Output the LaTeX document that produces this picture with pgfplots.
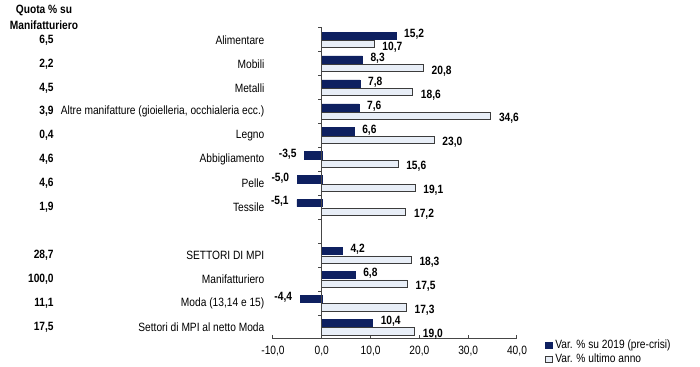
\documentclass[border=0pt]{standalone}
\usepackage{fontspec}
\setmainfont{Liberation Sans}[FakeStretch=0.85]
\usepackage{pgfplots}
\pgfplotsset{compat=1.18}
\definecolor{navy}{RGB}{14,32,96}
\definecolor{lightbar}{RGB}{232,238,247}
\definecolor{barline}{RGB}{60,60,60}
\definecolor{axisgray}{RGB}{70,70,70}
\newcommand{\fs}{\fontsize{9}{11}\selectfont}
\begin{document}
\begin{tikzpicture}[font=\fs]
\useasboundingbox (0,0) rectangle (525pt,275.25pt);
\node[font=\bfseries\fontsize{9}{12}\selectfont, align=center] at (33pt,262pt) {Quota \% su\\Manifatturiero};
\begin{axis}[
 at={(204.75pt,21pt)}, anchor=south west,
 scale only axis, width=183pt, height=233.25pt,
 xbar, bar width=0.3,
 xmin=-10, xmax=40, ymin=-0.5, ymax=12.5,
 axis x line*=bottom, axis y line*=left,
 y axis line style={draw=none},
 x axis line style={axisgray, line width=0.75pt},
 xtick={-10,0,...,40},
 xtick align=inside, major tick length=3pt,
 xtick style={axisgray, line width=0.75pt},
 xticklabel={\pgfmathprintnumber[use comma,fixed,fixed zerofill,precision=1,assume math mode=true]{\tick}},
 xticklabel style={yshift=-2pt},
 ytick={0,1,2,3,5,6,7,8,9,10,11,12},
 yticklabels={Settori di MPI al netto Moda, {Moda (13,14 e 15)}, Manifatturiero, SETTORI DI MPI, Tessile, Pelle, Abbigliamento, Legno, {Altre manifatture (gioielleria, occhialeria ecc.)}, Metalli, Mobili, Alimentare},
 ytick style={draw=none},
 tick label style={font=\fs},
 clip=false,
 point meta=x,
 nodes near coords={\pgfmathprintnumber[use comma,fixed,fixed zerofill,precision=1,assume math mode=true]{\pgfplotspointmeta}},
 nodes near coords align={horizontal},
 every node near coord/.append style={font=\bfseries\fs, inner xsep=6pt, text=black},
 legend style={at={(1.115,0.006)}, anchor=north west, draw=none, fill=none, inner sep=0pt, row sep=-1.5pt, font=\fs},
 legend cell align=left,
]
\addplot[fill=navy, draw=navy, bar shift=0.18, every node near coord/.append style={yshift=1pt},
 legend image code/.code={\draw[fill=navy, draw=navy] (0pt,-2.5pt) rectangle (5pt,2.5pt);}]
 coordinates {(15.2,12) (8.3,11) (7.8,10) (7.6,9) (6.6,8) (-3.5,7) (-5.0,6) (-5.1,5) (4.2,3) (6.8,2) (-4.4,1) (10.4,0)};
\addplot[fill=lightbar, draw=barline, line width=0.6pt, bar shift=-0.18, every node near coord/.append style={yshift=-2pt},
 legend image code/.code={\draw[fill=lightbar, draw=barline, line width=0.5pt] (0pt,-2.5pt) rectangle (5pt,2.5pt);}]
 coordinates {(10.7,12) (20.8,11) (18.6,10) (34.6,9) (23.0,8) (15.6,7) (19.1,6) (17.2,5) (18.3,3) (17.5,2) (17.3,1) (19.0,0)};
\legend{Var. \% su 2019 (pre-crisi), Var. \% ultimo anno}
\draw[axisgray, line width=0.75pt] (axis cs:0,-0.5) -- (axis cs:0,12.5);
\pgfplotsinvokeforeach{-0.5,0.5,1.5,2.5,3.5,4.5,5.5,6.5,7.5,8.5,9.5,10.5,11.5,12.5}{\draw[axisgray, line width=0.75pt] (axis cs:0,#1) -- ++(-3pt,0pt);}
\node[anchor=east, xshift=-161pt, font=\bfseries\fs] at (axis cs:-10,12) {6,5};
\node[anchor=east, xshift=-161pt, font=\bfseries\fs] at (axis cs:-10,11) {2,2};
\node[anchor=east, xshift=-161pt, font=\bfseries\fs] at (axis cs:-10,10) {4,5};
\node[anchor=east, xshift=-161pt, font=\bfseries\fs] at (axis cs:-10,9) {3,9};
\node[anchor=east, xshift=-161pt, font=\bfseries\fs] at (axis cs:-10,8) {0,4};
\node[anchor=east, xshift=-161pt, font=\bfseries\fs] at (axis cs:-10,7) {4,6};
\node[anchor=east, xshift=-161pt, font=\bfseries\fs] at (axis cs:-10,6) {4,6};
\node[anchor=east, xshift=-161pt, font=\bfseries\fs] at (axis cs:-10,5) {1,9};
\node[anchor=east, xshift=-161pt, font=\bfseries\fs] at (axis cs:-10,3) {28,7};
\node[anchor=east, xshift=-161pt, font=\bfseries\fs] at (axis cs:-10,2) {100,0};
\node[anchor=east, xshift=-161pt, font=\bfseries\fs] at (axis cs:-10,1) {11,1};
\node[anchor=east, xshift=-161pt, font=\bfseries\fs] at (axis cs:-10,0) {17,5};
\end{axis}
\end{tikzpicture}
\end{document}
